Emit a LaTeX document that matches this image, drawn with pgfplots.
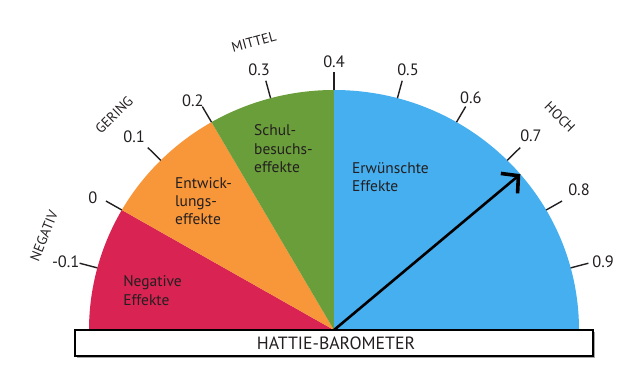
\documentclass[border=0pt]{standalone}
\usepackage{fontspec}
\setmainfont{PT Sans}
\usepackage{pgfplots}
\pgfplotsset{compat=1.18}
\usetikzlibrary{arrows.meta}
\definecolor{cred}{RGB}{217,35,82}
\definecolor{corange}{RGB}{248,150,58}
\definecolor{cgreen}{RGB}{106,158,58}
\definecolor{cblue}{RGB}{70,175,240}
\definecolor{ctext}{RGB}{35,31,32}
\begin{document}
\begin{tikzpicture}
\begin{axis}[x=245bp,y=240bp,xmin=-1.36327,xmax=1.24898,ymin=-0.19167,ymax=1.375,
  hide axis,clip=false]
% sectors: scale -0.2 .. 1.0 over 180 .. 0 degrees
\fill[cred] (axis cs:0,0) -- (axis cs:-1,0) arc[start angle=180,end angle=150,x radius=245bp,y radius=240bp] -- cycle;
\fill[corange] (axis cs:0,0) -- (axis cs:{cos(150)},{sin(150)}) arc[start angle=150,end angle=120,x radius=245bp,y radius=240bp] -- cycle;
\fill[cgreen] (axis cs:0,0) -- (axis cs:{cos(120)},{sin(120)}) arc[start angle=120,end angle=90,x radius=245bp,y radius=240bp] -- cycle;
\fill[cblue] (axis cs:0,0) -- (axis cs:0,1) arc[start angle=90,end angle=0,x radius=245bp,y radius=240bp] -- cycle;
% ticks
\pgfplotsinvokeforeach{165,150,135,120,105,90,75,60,45,30,15}{
  \draw[ctext,line width=1.4bp] (axis cs:{cos(#1)},{sin(#1)}) -- (axis cs:{1.075*cos(#1)},{1.075*sin(#1)});
}
% tick labels
\begin{scope}[every node/.style={font=\fontsize{16.5}{19}\selectfont,text=ctext,inner sep=0pt}]
\node at (axis cs:-1.095,0.283) {-0.1};
\node at (axis cs:-0.984,0.550) {0};
\node at (axis cs:-0.816,0.804) {0.1};
\node at (axis cs:-0.576,0.954) {0.2};
\node at (axis cs:-0.306,1.083) {0.3};
\node at (axis cs:0,1.117) {0.4};
\node at (axis cs:0.302,1.083) {0.5};
\node at (axis cs:0.559,0.967) {0.6};
\node at (axis cs:0.804,0.808) {0.7};
\node at (axis cs:1.000,0.583) {0.8};
\node at (axis cs:1.098,0.283) {0.9};
\end{scope}
% category labels
\begin{scope}[every node/.style={font=\fontsize{14}{16}\selectfont,text=ctext,inner sep=0pt}]
\node[rotate=68] at (axis cs:-1.184,0.392) {NEGATIV};
\node[rotate=45] at (axis cs:-0.898,0.896) {GERING};
\node[rotate=15] at (axis cs:-0.327,1.200) {MITTEL};
\node[rotate=-45] at (axis cs:0.922,0.8875) {HOCH};
\end{scope}
% sector texts
\begin{scope}[every node/.style={font=\fontsize{15.5}{18.5}\selectfont,text=ctext,inner sep=0pt,anchor=north west,align=left}]
\node at (axis cs:-0.3265,0.855) {Schul-\\besuchs-\\effekte};
\node at (axis cs:-0.649,0.638) {Entwick-\\lungs-\\effekte};
\node at (axis cs:-0.861,0.226) {Negative\\Effekte};
\node at (axis cs:0.0735,0.70) {Erwünschte\\Effekte};
\end{scope}
% arrow at d = 0.73
\addplot[black,line width=2.6bp,-{Straight Barb[length=12bp,width=26bp,line width=3.6bp]}] coordinates {(0,0) (0.7604,0.6494)};
% box
\fill[black!35] (axis cs:-1.049,-0.0083) rectangle (axis cs:1.065,-0.1183);
\draw[black,line width=1.3bp,fill=white] (axis cs:-1.057,0) rectangle (axis cs:1.057,-0.1083);
\node[font=\fontsize{17.8}{19}\selectfont,text=ctext,inner sep=0pt] at (axis cs:0.008,-0.054) {HATTIE-BAROMETER};
\end{axis}
\path (current axis.south west) rectangle (current axis.north east);
\end{tikzpicture}
\end{document}
